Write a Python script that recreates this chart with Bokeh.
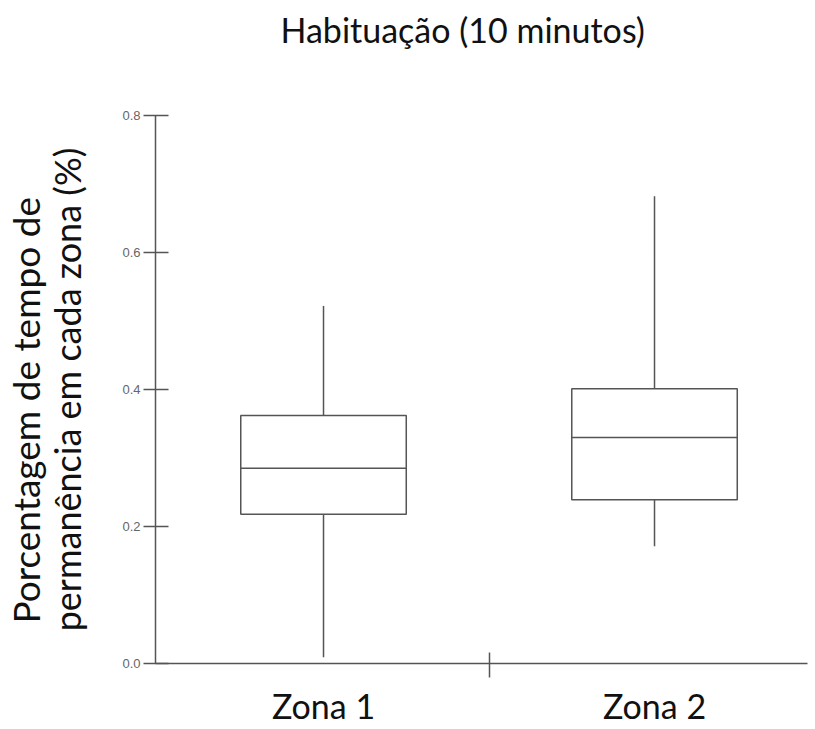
from bokeh.plotting import figure
from bokeh.models import FixedTicker, NumeralTickFormatter, ColumnDataSource, Title
from bokeh.embed import file_html
from bokeh.resources import INLINE

# ---- data ----
categories = ["Zona 1", "Zona 2"]
lower = [0.009, 0.171]
q1 = [0.218, 0.239]
median = [0.285, 0.330]
q3 = [0.362, 0.401]
upper = [0.522, 0.682]
y_ticks = [0.0, 0.2, 0.4, 0.6, 0.8]
title_text = "Habituação (10 minutos)"
y_label_lines = ["Porcentagem de tempo de", "permanência em cada zona (%)"]

FONT = "Lato"
LINE = "#555555"
BOX_W = 0.5

xs = [i + 1 for i in range(len(categories))]
src = ColumnDataSource(dict(
    x=xs,
    x0=[x - BOX_W / 2 for x in xs],
    x1=[x + BOX_W / 2 for x in xs],
    lower=lower, q1=q1, median=median, q3=q3, upper=upper,
))

p = figure(width=815, height=729, output_backend="svg", toolbar_location=None,
           x_range=(0.4924, 2.4622), y_range=(0, 0.8),
           min_border_left=155, min_border_right=8, min_border_top=115,
           min_border_bottom=66, title=None)
p.outline_line_color = None
p.grid.visible = False
p.background_fill_color = "white"
p.border_fill_color = "white"

# spacer between frame and title, then the title itself
p.add_layout(Title(text=" ", text_font_size="1px", standoff=63), "above")
p.add_layout(Title(text=title_text, text_font=FONT, text_font_size="34px",
                   text_font_style="normal", text_color="#111111",
                   align="left", offset=125, standoff=0), "above")

# whiskers
p.segment(x0="x", y0="q3", x1="x", y1="upper", source=src, line_color=LINE, line_width=1.5)
p.segment(x0="x", y0="q1", x1="x", y1="lower", source=src, line_color=LINE, line_width=1.5)
# boxes
p.vbar(x="x", width=BOX_W, bottom="q1", top="q3", source=src, fill_color="white",
       line_color=LINE, line_width=1.5)
# medians
p.segment(x0="x0", y0="median", x1="x1", y1="median", source=src, line_color=LINE, line_width=1.5)

# y axis
ya = p.yaxis[0]
ya.ticker = FixedTicker(ticks=y_ticks)
ya.formatter = NumeralTickFormatter(format="0.0")
ya.bounds = (0, 0.8)
ya.axis_line_color = LINE
ya.axis_line_width = 1.5
ya.major_tick_line_color = LINE
ya.major_tick_line_width = 1.5
ya.major_tick_in = 13
ya.major_tick_out = 12
ya.minor_tick_line_color = None
ya.major_label_text_font = "Liberation Sans"
ya.major_label_text_font_size = "13px"
ya.major_label_text_color = "#666666"
ya.major_label_standoff = 3
ya.axis_label = y_label_lines[1]
ya.axis_label_text_font = FONT
ya.axis_label_text_font_size = "36px"
ya.axis_label_text_font_style = "normal"
ya.axis_label_text_color = "#111111"
ya.axis_label_standoff = 30

# first line of the y title, outside the axis title
p.add_layout(Title(text=y_label_lines[0], text_font=FONT, text_font_size="37px",
                   text_font_style="normal", text_color="#111111",
                   align="left", offset=40, standoff=-10), "left")

# x axis
xa = p.xaxis[0]
xa.ticker = FixedTicker(ticks=xs, minor_ticks=[1.5])
xa.major_label_overrides = {x: c for x, c in zip(xs, categories)}
xa.axis_line_color = LINE
xa.axis_line_width = 1.5
xa.major_tick_line_color = None
xa.major_tick_in = 0
xa.major_tick_out = 0
xa.minor_tick_line_color = LINE
xa.minor_tick_line_width = 1.5
xa.minor_tick_in = 11
xa.minor_tick_out = 14
xa.major_label_text_font = FONT
xa.major_label_text_font_size = "34px"
xa.major_label_text_color = "#111111"
xa.major_label_standoff = 7

open("out.html", "w").write(file_html(p, INLINE))
